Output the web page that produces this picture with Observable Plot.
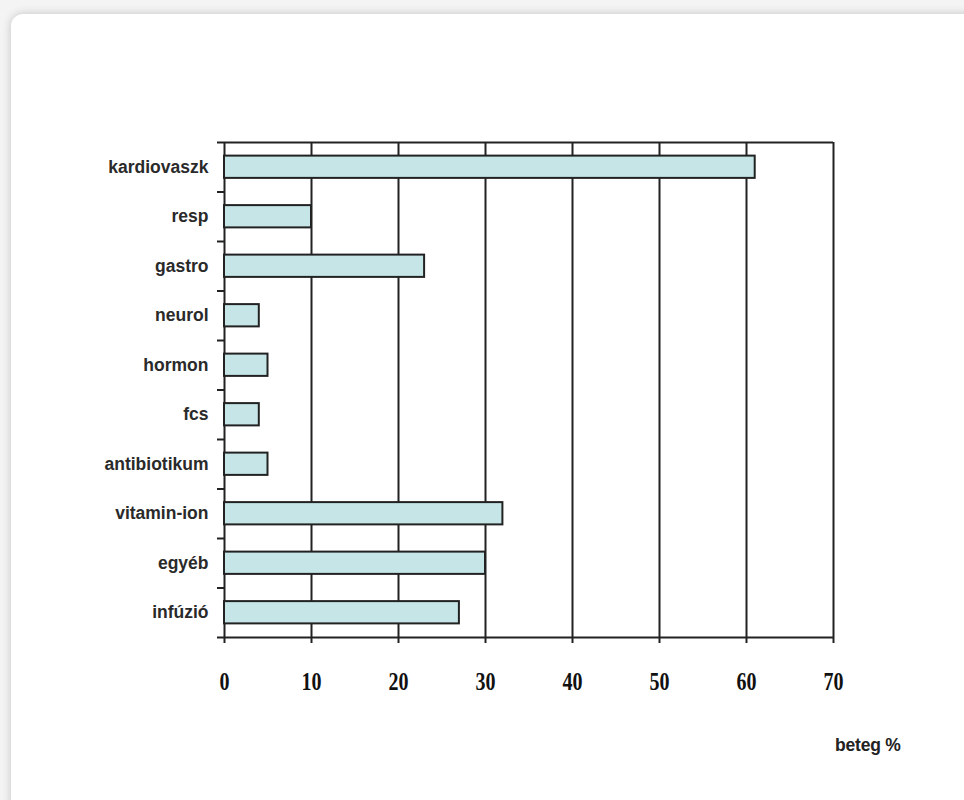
<!DOCTYPE html>
<html>
<head>
<meta charset="utf-8">
<script src="https://cdn.jsdelivr.net/npm/d3@7"></script>
<script src="https://cdn.jsdelivr.net/npm/@observablehq/plot@0.6"></script>
<style>
  html, body { margin: 0; padding: 0; }
  body { width: 964px; height: 800px; background: #f4f4f4; position: relative; overflow: hidden; }
  #card {
    position: absolute; left: 11px; top: 14px; width: 980px; height: 820px;
    background: #fff; border-radius: 12px;
    box-shadow: 0 0 10px rgba(0,0,0,0.2);
  }
  #chart { position: absolute; left: 0; top: 0; }
  #unit {
    position: absolute; left: 835px; top: 735px;
    font-family: "Liberation Sans", Arial, sans-serif; font-weight: bold;
    font-size: 17.5px; color: #222; letter-spacing: -0.2px;
  }
</style>
</head>
<body>
<div id="card"></div>
<div id="chart"></div>
<div id="unit">beteg %</div>
<script>
// Gyógyszercsoportok: a betegek hány százaléka kapta
const categories = ["kardiovaszk", "resp", "gastro", "neurol", "hormon", "fcs", "antibiotikum", "vitamin-ion", "egyéb", "infúzió"];
const values = [61, 10, 23, 4, 5, 4, 5, 32, 30, 27];
const xTicks = [0, 10, 20, 30, 40, 50, 60, 70];
const xDomain = [0, 70];

const rows = categories.map((c, i) => ({category: c, value: values[i]}));
const lineColor = "#222";
const step = 49.5;

const plot = Plot.plot({
  width: 964,
  height: 800,
  marginLeft: 224,
  marginRight: 131,
  marginTop: 142,
  marginBottom: 163,
  style: {background: "transparent", overflow: "visible"},
  x: {domain: xDomain, axis: null},
  y: {domain: categories, paddingInner: 0.55, paddingOuter: 0.275, round: false, axis: null},
  marks: [
    // vertical grid lines, left axis and right frame
    Plot.ruleX(xTicks, {stroke: lineColor, strokeWidth: 2}),
    // top frame line
    Plot.ruleY([categories[0]], {x1: xDomain[0], x2: xDomain[1], dy: -step / 2, insetLeft: -7, stroke: lineColor, strokeWidth: 2}),
    // category boundary ticks and bottom axis line
    Plot.ruleY(categories.slice(0, -1), {x1: xDomain[0], x2: xDomain[0], dy: step / 2, insetLeft: -7, stroke: lineColor, strokeWidth: 2}),
    Plot.ruleY([categories[categories.length - 1]], {x1: xDomain[0], x2: xDomain[1], dy: step / 2, insetLeft: -7, stroke: lineColor, strokeWidth: 2}),
    // bars
    Plot.barX(rows, {x: "value", y: "category", fill: "#c6e5e7", stroke: lineColor, strokeWidth: 2}),
    // axes
    Plot.axisX(xTicks, {
      tickSize: 6, tickPadding: 28, stroke: lineColor, strokeWidth: 2,
      fontFamily: "Liberation Serif, Times New Roman, serif", fontWeight: "bold", fontSize: 26, fill: "#111",
      label: null
    }),
    Plot.axisY({
      tickSize: 0, tickPadding: 16,
      fontFamily: "Liberation Sans, Arial, sans-serif", fontWeight: "bold", fontSize: 17.5, fill: "#2a2a2a",
      label: null
    })
  ]
});

// condensed serif numerals on the value axis
d3.select(plot).selectAll("g[aria-label='x-axis tick label'] text").each(function () {
  const t = this.textContent;
  this.setAttribute("textLength", 10 * t.length);
  this.setAttribute("lengthAdjust", "spacingAndGlyphs");
});

document.getElementById("chart").appendChild(plot);
</script>
</body>
</html>
